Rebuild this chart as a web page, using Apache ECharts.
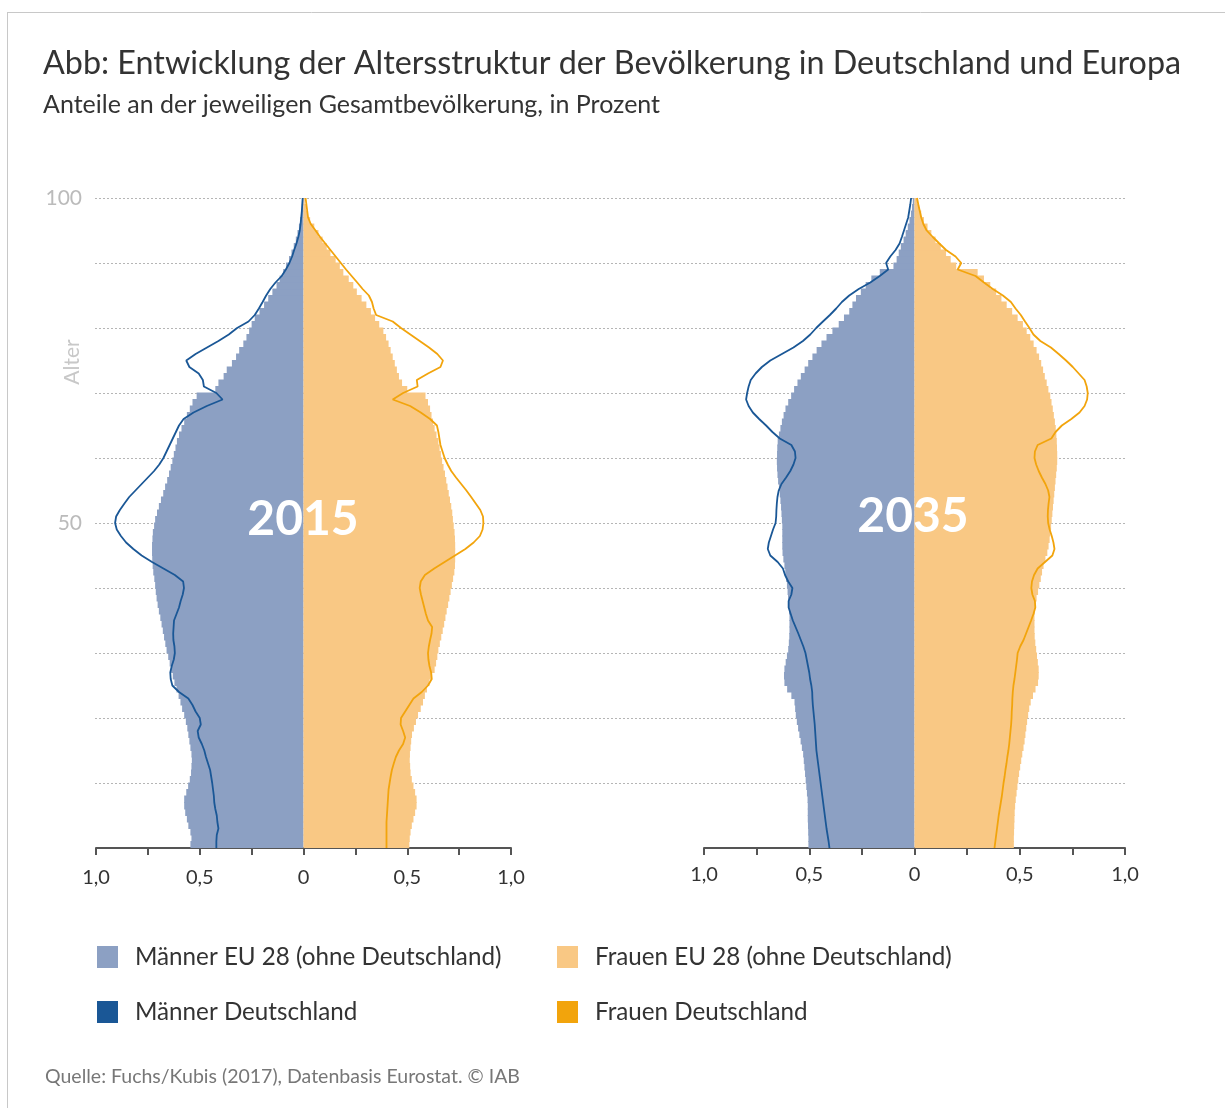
<!DOCTYPE html>
<html>
<head>
<meta charset="utf-8">
<script src="https://cdn.jsdelivr.net/npm/echarts@6/dist/echarts.min.js"></script>
<style>
html,body{margin:0;padding:0;background:#fff;}
#c{width:1225px;height:1108px;}
</style>
</head>
<body>
<div id="c"></div>
<script>
// ages 0..99 for bars, 0..100 for lines
const barAges = Array.from({length:100}, (_, i) => String(i));
const lineAges = Array.from({length:101}, (_, i) => i);
const xTicks = ['1,0','0,5','0','0,5','1,0'];

// 2015 – EU 28 without Germany (share in %)
const menEU2015 = [0.545,0.54,0.545,0.555,0.562,0.57,0.575,0.575,0.565,0.556,
0.548,0.542,0.54,0.538,0.54,0.545,0.55,0.555,0.56,0.567,
0.575,0.585,0.593,0.602,0.612,0.622,0.63,0.638,0.645,0.652,
0.66,0.666,0.672,0.678,0.684,0.69,0.697,0.703,0.708,0.712,
0.715,0.719,0.724,0.727,0.729,0.73,0.73,0.728,0.726,0.72,
0.715,0.706,0.697,0.687,0.676,0.667,0.657,0.648,0.64,0.632,
0.625,0.617,0.61,0.6,0.588,0.575,0.562,0.548,0.535,0.515,
0.425,0.41,0.385,0.37,0.345,0.325,0.31,0.29,0.275,0.262,
0.25,0.235,0.212,0.19,0.17,0.15,0.13,0.115,0.098,0.084,
0.07,0.058,0.047,0.037,0.029,0.022,0.016,0.011,0.008,0.005];
const womenEU2015 = [0.51,0.512,0.516,0.522,0.53,0.538,0.545,0.545,0.538,0.53,
0.522,0.516,0.514,0.512,0.513,0.516,0.519,0.523,0.532,0.542,
0.552,0.565,0.576,0.585,0.595,0.607,0.62,0.632,0.639,0.645,
0.65,0.657,0.664,0.671,0.678,0.684,0.69,0.697,0.703,0.709,
0.715,0.721,0.727,0.73,0.731,0.731,0.731,0.73,0.728,0.724,
0.72,0.717,0.712,0.706,0.70,0.694,0.688,0.682,0.675,0.668,
0.662,0.656,0.65,0.641,0.632,0.624,0.617,0.61,0.6,0.588,
0.5,0.475,0.46,0.45,0.44,0.43,0.42,0.41,0.398,0.385,
0.365,0.345,0.325,0.303,0.28,0.257,0.24,0.218,0.192,0.175,
0.155,0.13,0.112,0.092,0.072,0.052,0.032,0.02,0.012,0.006];
// 2015 – Germany
const menDE2015 = [0.42,0.42,0.418,0.41,0.415,0.418,0.425,0.43,0.432,0.436,
0.44,0.445,0.45,0.46,0.47,0.478,0.49,0.505,0.51,0.495,
0.5,0.52,0.535,0.555,0.6,0.632,0.64,0.642,0.635,0.625,
0.62,0.622,0.627,0.628,0.626,0.624,0.612,0.6,0.592,0.582,
0.576,0.58,0.62,0.675,0.73,0.78,0.82,0.855,0.88,0.9,
0.908,0.903,0.885,0.863,0.84,0.81,0.78,0.75,0.72,0.695,
0.675,0.66,0.645,0.63,0.615,0.6,0.578,0.53,0.466,0.39,
0.42,0.48,0.485,0.505,0.55,0.565,0.52,0.465,0.41,0.36,
0.32,0.265,0.235,0.215,0.197,0.18,0.16,0.135,0.105,0.085,
0.068,0.055,0.045,0.034,0.025,0.018,0.014,0.011,0.008,0.006,0.004];
const womenDE2015 = [0.40,0.40,0.40,0.40,0.40,0.402,0.404,0.406,0.408,0.41,
0.415,0.42,0.426,0.435,0.445,0.46,0.48,0.49,0.48,0.468,
0.47,0.49,0.51,0.53,0.57,0.6,0.618,0.615,0.607,0.602,
0.6,0.604,0.61,0.617,0.62,0.6,0.59,0.582,0.574,0.566,
0.56,0.565,0.585,0.63,0.68,0.73,0.78,0.82,0.85,0.863,
0.867,0.865,0.852,0.83,0.808,0.785,0.76,0.735,0.712,0.695,
0.68,0.67,0.66,0.655,0.65,0.643,0.61,0.565,0.514,0.43,
0.48,0.55,0.546,0.6,0.66,0.672,0.645,0.605,0.56,0.515,
0.47,0.43,0.35,0.338,0.33,0.315,0.285,0.259,0.232,0.205,
0.18,0.155,0.13,0.105,0.08,0.058,0.035,0.022,0.018,0.014,0.01];

// 2035 – EU 28 without Germany
const menEU2035 = [0.504,0.504,0.505,0.506,0.507,0.507,0.507,0.508,0.511,0.514,
0.517,0.52,0.523,0.526,0.529,0.535,0.541,0.547,0.553,0.559,
0.564,0.567,0.57,0.585,0.605,0.618,0.62,0.618,0.612,0.606,
0.6,0.597,0.595,0.594,0.594,0.594,0.596,0.598,0.601,0.603,
0.606,0.61,0.614,0.618,0.623,0.627,0.628,0.628,0.628,0.628,
0.63,0.632,0.634,0.637,0.64,0.644,0.648,0.651,0.653,0.654,
0.653,0.652,0.65,0.644,0.637,0.63,0.622,0.613,0.6,0.586,
0.572,0.556,0.54,0.522,0.505,0.485,0.465,0.442,0.418,0.39,
0.36,0.335,0.31,0.295,0.278,0.255,0.232,0.205,0.165,0.1,
0.085,0.075,0.065,0.052,0.042,0.032,0.024,0.017,0.012,0.008];
const womenEU2035 = [0.472,0.472,0.473,0.474,0.475,0.476,0.478,0.481,0.485,0.489,
0.493,0.497,0.502,0.507,0.512,0.518,0.523,0.527,0.531,0.535,
0.54,0.545,0.552,0.563,0.575,0.587,0.59,0.59,0.586,0.582,
0.578,0.574,0.571,0.57,0.57,0.57,0.572,0.575,0.58,0.587,
0.593,0.6,0.606,0.613,0.622,0.631,0.637,0.642,0.645,0.649,
0.652,0.655,0.658,0.661,0.664,0.667,0.67,0.673,0.676,0.678,
0.678,0.677,0.676,0.674,0.671,0.667,0.662,0.657,0.651,0.645,
0.636,0.628,0.619,0.611,0.602,0.592,0.58,0.566,0.55,0.533,
0.515,0.49,0.464,0.438,0.413,0.388,0.36,0.33,0.3,0.198,
0.172,0.15,0.125,0.1,0.08,0.062,0.045,0.032,0.022,0.012];
// 2035 – Germany
const menDE2035 = [0.404,0.408,0.413,0.418,0.422,0.426,0.43,0.434,0.438,0.442,
0.446,0.45,0.454,0.458,0.462,0.466,0.468,0.47,0.472,0.474,
0.477,0.48,0.483,0.485,0.486,0.49,0.496,0.5,0.506,0.512,
0.518,0.528,0.54,0.552,0.565,0.578,0.588,0.598,0.598,0.585,
0.58,0.6,0.615,0.625,0.65,0.685,0.697,0.692,0.682,0.672,
0.66,0.657,0.656,0.654,0.651,0.645,0.632,0.61,0.59,0.575,
0.565,0.568,0.585,0.64,0.675,0.705,0.738,0.768,0.788,0.8,
0.795,0.788,0.778,0.755,0.725,0.685,0.63,0.575,0.53,0.495,
0.467,0.435,0.402,0.372,0.345,0.31,0.265,0.21,0.165,0.125,
0.135,0.115,0.09,0.071,0.06,0.05,0.04,0.03,0.025,0.02,0.016];
const womenDE2035 = [0.38,0.384,0.388,0.392,0.396,0.4,0.405,0.41,0.415,0.419,
0.423,0.428,0.432,0.437,0.441,0.446,0.45,0.453,0.456,0.459,
0.461,0.462,0.464,0.465,0.467,0.47,0.475,0.479,0.483,0.487,
0.49,0.502,0.518,0.53,0.542,0.554,0.565,0.574,0.572,0.56,
0.555,0.558,0.568,0.585,0.62,0.655,0.665,0.66,0.652,0.642,
0.635,0.633,0.634,0.637,0.641,0.635,0.622,0.605,0.59,0.578,
0.57,0.572,0.585,0.65,0.67,0.7,0.745,0.784,0.808,0.82,
0.823,0.818,0.808,0.78,0.752,0.72,0.685,0.648,0.598,0.565,
0.546,0.525,0.505,0.48,0.458,0.42,0.372,0.33,0.29,0.205,
0.222,0.195,0.15,0.118,0.087,0.058,0.042,0.032,0.025,0.018,0.012];

const C_MEN_EU = '#8ca0c3', C_WOMEN_EU = '#f9c884', C_MEN_DE = '#1a5796', C_WOMEN_DE = '#f2a40c';
const N_MEN_EU = 'Männer EU 28 (ohne Deutschland)', N_WOMEN_EU = 'Frauen EU 28 (ohne Deutschland)';
const N_MEN_DE = 'Männer Deutschland', N_WOMEN_DE = 'Frauen Deutschland';
const FONT = 'Lato, "Open Sans", sans-serif';

function xAxisFor(gi, margin) {
  return {
    type: 'value', gridIndex: gi, min: -1, max: 1, interval: 0.25,
    axisLine: {show: true, onZero: false, lineStyle: {color: '#555', width: 2}},
    axisTick: {show: true, length: 7, lineStyle: {color: '#555', width: 2}},
    splitLine: {show: false},
    axisLabel: {
      margin: margin, fontSize: 20, color: '#333', fontFamily: FONT,
      formatter: v => {
        const k = Math.round((v + 1) / 0.5 * 1000) / 1000;
        return Number.isInteger(k) ? xTicks[k] : '';
      }
    }
  };
}
const hiddenCat = gi => ({type: 'category', gridIndex: gi, data: barAges, show: false, boundaryGap: true});
const hiddenVal = gi => ({type: 'value', gridIndex: gi, min: 0, max: 100, show: false});

function barSeries(name, vals, color, sign, xi, yi) {
  return {
    type: 'bar', name, xAxisIndex: xi, yAxisIndex: yi,
    data: vals.map(v => sign * v),
    barWidth: 7.4, barGap: '-100%',
    itemStyle: {color},
    emphasis: {disabled: true}, silent: true, z: 2
  };
}
function lineSeries(name, vals, color, sign, xi, yi) {
  return {
    type: 'line', name, xAxisIndex: xi, yAxisIndex: yi,
    data: vals.map((v, i) => [sign * v, lineAges[i]]),
    symbol: 'none', color, lineStyle: {color, width: 1.8},
    silent: true, z: 3
  };
}

const chart = echarts.init(document.getElementById('c'), null, {renderer: 'canvas'});
chart.setOption({
  animation: false,
  backgroundColor: '#fff',
  textStyle: {fontFamily: FONT},
  title: {
    text: 'Abb: Entwicklung der Altersstruktur der Bevölkerung in Deutschland und Europa',
    subtext: 'Anteile an der jeweiligen Gesamtbevölkerung, in Prozent',
    left: 38, top: 43, itemGap: 12,
    textStyle: {fontSize: 32.3, fontWeight: 'normal', color: '#333', fontFamily: FONT},
    subtextStyle: {fontSize: 25, color: '#333', fontFamily: FONT}
  },
  grid: [
    {left: 96, top: 198, width: 415, height: 650},
    {left: 704, top: 198, width: 421, height: 650},
    {left: 95, top: 198, width: 1030, height: 650}
  ],
  xAxis: [
    xAxisFor(0, 20),
    xAxisFor(1, 17),
    {type: 'value', gridIndex: 2, min: 0, max: 1, show: false}
  ],
  yAxis: [
    hiddenCat(0), hiddenVal(0), hiddenCat(1), hiddenVal(1),
    {
      type: 'value', gridIndex: 2, min: 0, max: 100, interval: 10,
      axisLine: {show: false}, axisTick: {show: false},
      splitLine: {show: true, showMinLine: false, lineStyle: {type: [2, 2], color: '#b5b5b5', width: 1}},
      axisLabel: {margin: 13, fontSize: 21, color: '#bbb', fontFamily: FONT,
        formatter: v => (v === 100 || v === 50) ? String(v) : ''}
    }
  ],
  legend: [
    {left: 97, top: 945, orient: 'vertical', itemGap: 31, itemWidth: 21, itemHeight: 22, padding: 0,
     icon: 'rect', selectedMode: false,
     textStyle: {fontSize: 24.2, color: '#333', fontFamily: FONT, padding: [0, 0, 0, 12]},
     data: [N_MEN_EU, N_MEN_DE]},
    {left: 557, top: 945, orient: 'vertical', itemGap: 31, itemWidth: 21, itemHeight: 22, padding: 0,
     icon: 'rect', selectedMode: false,
     textStyle: {fontSize: 24.2, color: '#333', fontFamily: FONT, padding: [0, 0, 0, 12]},
     data: [N_WOMEN_EU, N_WOMEN_DE]}
  ],
  graphic: [
    {type: 'line', shape: {x1: 7, y1: 12.5, x2: 1225, y2: 12.5}, style: {stroke: '#c8c8c8', lineWidth: 1}, silent: true},
    {type: 'line', shape: {x1: 7.5, y1: 12, x2: 7.5, y2: 1108}, style: {stroke: '#c8c8c8', lineWidth: 1}, silent: true},
    {type: 'text', x: 72, y: 362, rotation: Math.PI / 2, z: 10,
     style: {text: 'Alter', fill: '#c8c8c8', font: '21px ' + FONT, textAlign: 'center', textVerticalAlign: 'middle'}},
    {type: 'text', x: 303, y: 520, z: 10,
     style: {text: '2015', fill: '#fff', font: 'bold 48px ' + FONT, textAlign: 'center', textVerticalAlign: 'middle'}},
    {type: 'text', x: 913, y: 517, z: 10,
     style: {text: '2035', fill: '#fff', font: 'bold 48px ' + FONT, textAlign: 'center', textVerticalAlign: 'middle'}},
    {type: 'text', x: 45, y: 1077, z: 10,
     style: {text: 'Quelle: Fuchs/Kubis (2017), Datenbasis Eurostat. © IAB', fill: '#777', font: '19.5px ' + FONT, textAlign: 'left', textVerticalAlign: 'middle'}}
  ],
  series: [
    barSeries(N_MEN_EU, menEU2015, C_MEN_EU, -1, 0, 0),
    barSeries(N_WOMEN_EU, womenEU2015, C_WOMEN_EU, 1, 0, 0),
    lineSeries(N_MEN_DE, menDE2015, C_MEN_DE, -1, 0, 1),
    lineSeries(N_WOMEN_DE, womenDE2015, C_WOMEN_DE, 1, 0, 1),
    barSeries(N_MEN_EU, menEU2035, C_MEN_EU, -1, 1, 2),
    barSeries(N_WOMEN_EU, womenEU2035, C_WOMEN_EU, 1, 1, 2),
    lineSeries(N_MEN_DE, menDE2035, C_MEN_DE, -1, 1, 3),
    lineSeries(N_WOMEN_DE, womenDE2035, C_WOMEN_DE, 1, 1, 3)
  ]
});
</script>
</body>
</html>
